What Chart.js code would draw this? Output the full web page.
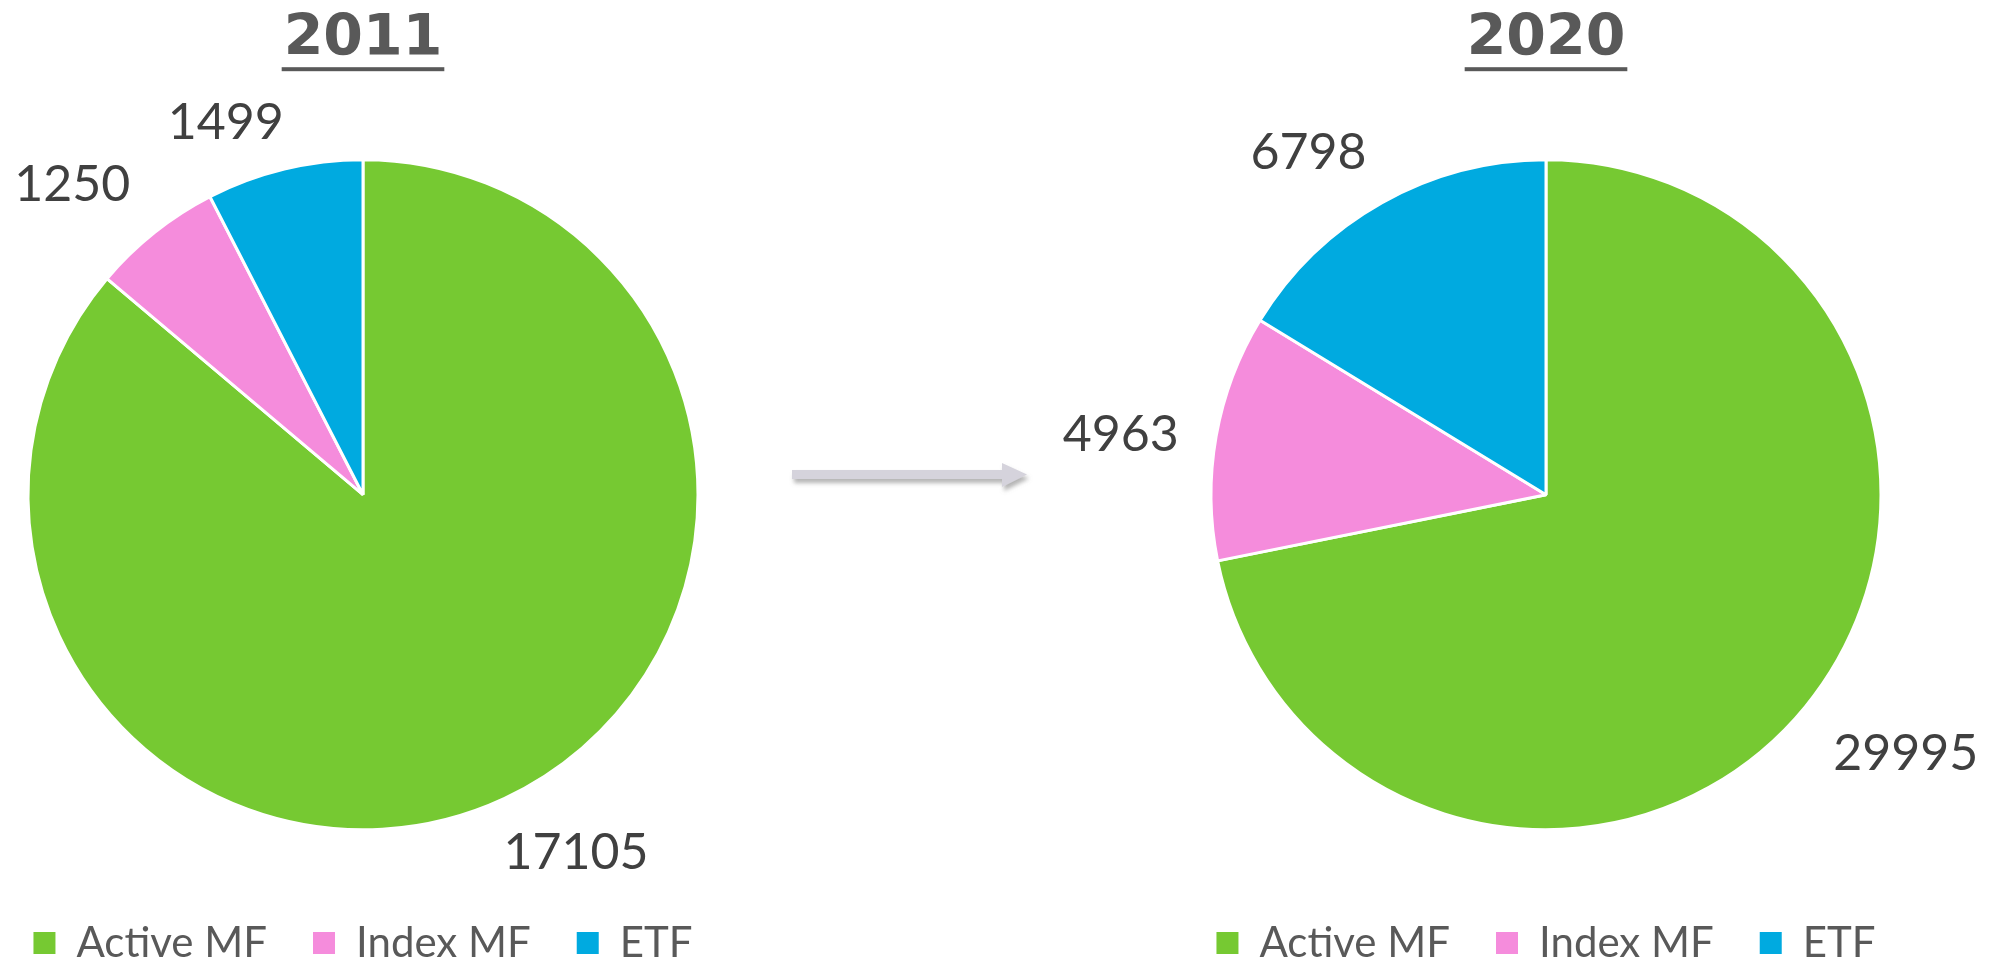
<!DOCTYPE html>
<html>
<head>
<meta charset="utf-8">
<script src="https://cdn.jsdelivr.net/npm/chart.js@4.4.1/dist/chart.umd.min.js"></script>
<style>
  html, body { margin: 0; padding: 0; background: #fff; overflow: hidden; }
  #page { position: relative; width: 2000px; height: 967px; overflow: hidden; }
  .box { position: absolute; top: 0; width: 1000px; height: 974px; }
  #leftBox { left: -137px; }
  #rightBox { left: 1046px; }
  #arrow { position: absolute; left: 780px; top: 450px; }
</style>
</head>
<body>
<div id="page">
  <div class="box" id="leftBox"><canvas id="pie2011"></canvas></div>
  <div class="box" id="rightBox"><canvas id="pie2020"></canvas></div>
  <svg id="arrow" width="270" height="60">
    <defs>
      <filter id="shadow" x="-10%" y="-50%" width="120%" height="200%">
        <feDropShadow dx="2" dy="4" stdDeviation="2" flood-color="#777" flood-opacity="0.55"/>
      </filter>
    </defs>
    <g filter="url(#shadow)" fill="#D5D3DC">
      <rect x="12" y="20" width="212" height="9"/>
      <polygon points="222,13 247,24.5 222,37"/>
    </g>
  </svg>
</div>
<script>
const categories = ["Active MF", "Index MF", "ETF"];
const values2011 = [17105, 1250, 1499];
const values2020 = [29995, 4963, 6798];
const sliceColors = ["#76C932", "#F58CDC", "#00AAE0"];

// value labels just outside each slice (nudged a bit counter-clockwise like Excel does)
const outsideLabels = {
  id: "outsideLabels",
  afterDatasetsDraw(chart) {
    const ctx = chart.ctx;
    const meta = chart.getDatasetMeta(0);
    const values = chart.data.datasets[0].data;
    ctx.save();
    ctx.font = "50px Lato";
    ctx.fillStyle = "#404040";
    ctx.textAlign = "center";
    ctx.textBaseline = "middle";
    meta.data.forEach((arc, i) => {
      const p = arc.getProps(["x", "y", "startAngle", "endAngle", "outerRadius"], true);
      const a = (p.startAngle + p.endAngle) / 2;
      const cos = Math.cos(a);
      const sin = Math.sin(a);
      const text = String(values[i]);
      const w = ctx.measureText(text).width;
      const h = 14;
      const d = p.outerRadius + 30 + Math.abs(cos) * w / 2 + Math.abs(sin) * h / 2;
      const x = p.x + cos * d + 48 * sin;
      const y = p.y + sin * d - 14 * cos;
      ctx.fillText(text, x, y);
    });
    ctx.restore();
  },
};

// underline under the title
const titleUnderline = {
  id: "titleUnderline",
  afterDraw(chart) {
    const tb = chart.titleBlock;
    if (!tb) return;
    const ctx = chart.ctx;
    const opts = chart.options.plugins.title;
    ctx.save();
    ctx.font = "bold " + opts.font.size + "px " + opts.font.family;
    const w = ctx.measureText(opts.text).width + 4;
    const cx = (tb.left + tb.right) / 2;
    const y = tb.top + opts.padding.top + opts.font.size * 0.6 + 27;
    ctx.fillStyle = "#595959";
    ctx.fillRect(cx - w / 2, y, w, 4);
    ctx.restore();
  },
};

function makePie(id, title, values) {
  const ctx = document.getElementById(id).getContext("2d");
  return new Chart(ctx, {
    type: "pie",
    data: {
      labels: categories,
      datasets: [
        {
          data: values,
          backgroundColor: sliceColors,
          borderColor: "#ffffff",
          borderWidth: 3,
          radius: 335,
        },
      ],
    },
    options: {
      responsive: true,
      maintainAspectRatio: false,
      animation: false,
      events: [],
      layout: { padding: 0 },
      plugins: {
        title: {
          display: true,
          text: title,
          color: "#595959",
          font: { family: "DejaVu Sans", size: 57, weight: "bold" },
          padding: { top: 6, bottom: 39 },
        },
        legend: {
          position: "bottom",
          labels: {
            color: "#595959",
            font: { family: "Lato", size: 42 },
            boxWidth: 22,
            boxHeight: 22,
            padding: 46,
            generateLabels(chart) {
              const items = Chart.overrides.pie.plugins.legend.labels.generateLabels(chart);
              items.forEach((it) => { it.lineWidth = 0; });
              return items;
            },
          },
        },
        tooltip: { enabled: false },
      },
    },
    plugins: [outsideLabels, titleUnderline],
  });
}

makePie("pie2011", "2011", values2011);
makePie("pie2020", "2020", values2020);
</script>
</body>
</html>
